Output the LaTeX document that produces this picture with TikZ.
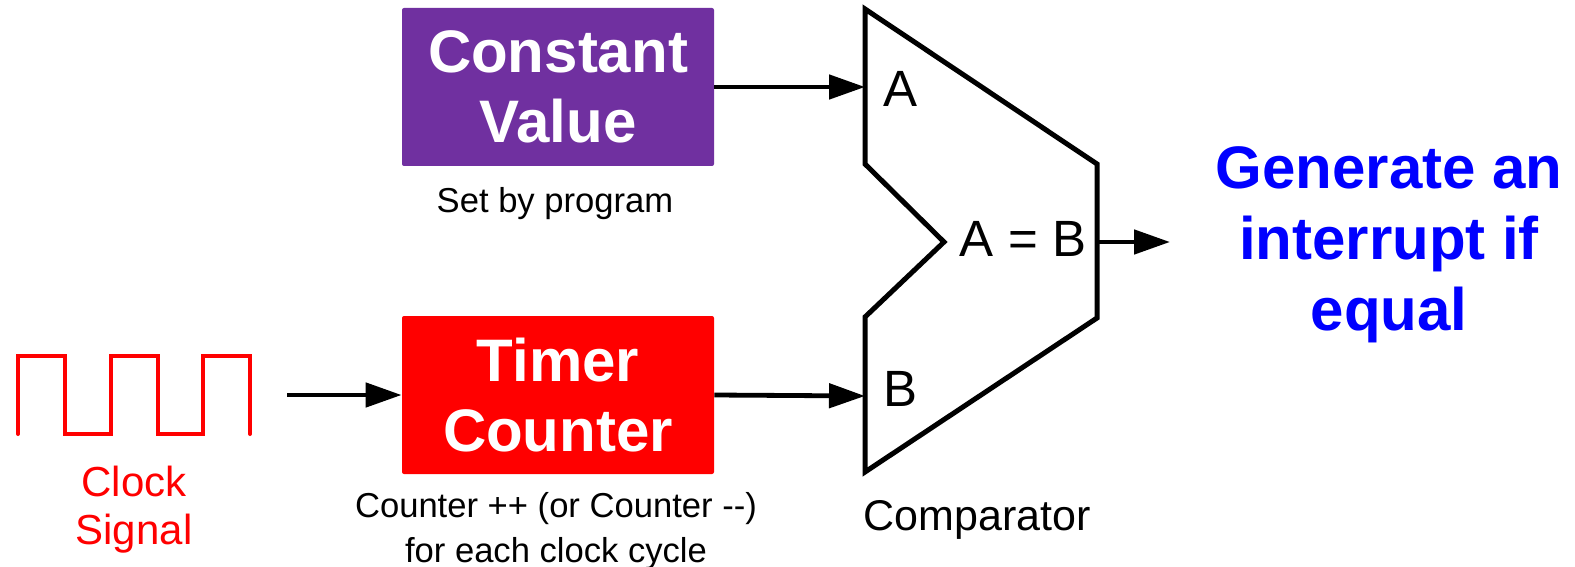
\documentclass[tikz,border=0pt]{standalone}
\usepackage{fontspec}
\setmainfont{Liberation Sans}
\usetikzlibrary{arrows.meta}
\definecolor{cvpurple}{HTML}{7030A0}
\definecolor{tcred}{HTML}{FF0000}
\definecolor{irqblue}{HTML}{0000FF}
\tikzset{
	block/.style={rectangle,rounded corners=1pt,minimum width=156pt,minimum height=79pt,inner sep=0pt,
		text=white,align=center,font=\fontsize{30}{35}\selectfont\bfseries},
	link/.style={-{Triangle[length=18pt,width=12pt]},line width=2.4pt},
	note/.style={align=center,font=\fontsize{17.3}{22.5}\selectfont},
	port/.style={font=\fontsize{25.5}{30}\selectfont,inner sep=0pt}
}
\begin{document}
\begin{tikzpicture}[x=0.5pt,y=-0.5pt]
				\useasboundingbox (0,0) rectangle (1575,567);
				% clock
				\draw[tcred,line width=2pt,line cap=round] (18,434) -- (18,356) -- (65,356) -- (65,434) -- (111,434) -- (111,356) -- (158,356) -- (158,434) -- (203,434) -- (203,356) -- (250,356) -- (250,434);
				\node[tcred,align=center,font=\fontsize{21}{24}\selectfont] (clklabel) at (134,510) {Clock\\Signal};
				\coordinate (clk) at (287,395);
				% blocks
				\node[block,fill=cvpurple] (const) at (558,87) {Constant\\Value};
				\node[note] (constnote) at (555,204) {Set by program};
				\node[block,fill=tcred] (timer) at (558,395) {Timer\\Counter};
				\node[note] (timernote) at (556,531) {Counter ++ (or Counter -{}-)\\for each clock cycle};
				% comparator
				\draw[line width=2.5pt] (865,9) -- (865,164) -- (944,242) -- (865,317) -- (865,472) -- (1097,318) -- (1097,164) -- cycle;
				\coordinate (cmpA) at (865,87);
				\coordinate (cmpB) at (865,396);
				\coordinate (cmpout) at (1097,242);
				\node[port] (portA) at (900,89) {A};
				\node[port] (portB) at (900,389) {B};
				\node[port] (eq) at (1023,239) {A = B};
				\node[font=\fontsize{21.5}{25}\selectfont] (cmplabel) at (977,520) {Comparator};
				% result
				\node[irqblue,align=center,font=\fontsize{30}{35.5}\selectfont\bfseries] (irq) at (1389,245) {Generate an\\interrupt if\\equal};
				\coordinate (irqin) at (1170,242);
				% connectors
				\draw[link] (clk) -- (timer.west);
				\draw[link] (const.east) -- (cmpA);
				\draw[link] (timer.east) -- (cmpB);
				\draw[link] (cmpout) -- (irqin);
				\end{tikzpicture}
\end{document}
